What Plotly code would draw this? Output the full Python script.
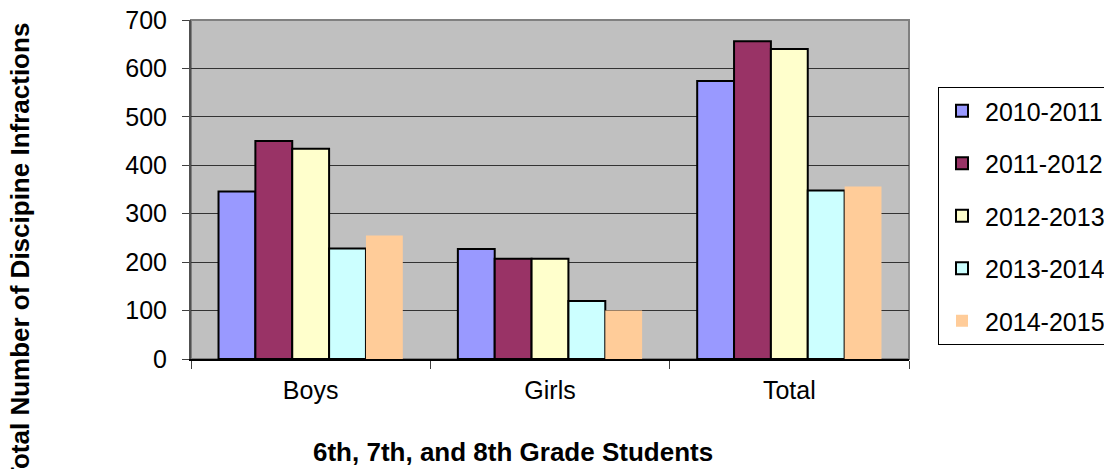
import plotly.graph_objects as go

categories = ["Boys", "Girls", "Total"]
series_names = ["2010-2011", "2011-2012", "2012-2013", "2013-2014", "2014-2015"]
v_2010_2011 = [346, 227, 574]
v_2011_2012 = [450, 207, 656]
v_2012_2013 = [434, 207, 640]
v_2013_2014 = [228, 120, 348]
v_2014_2015 = [255, 100, 356]
y_ticks = [0, 100, 200, 300, 400, 500, 600, 700]

values = [v_2010_2011, v_2011_2012, v_2012_2013, v_2013_2014, v_2014_2015]
colors = ["#9999FF", "#993366", "#FFFFCC", "#CCFFFF", "#FFCC99"]
line_widths = [2, 2, 2, 2, 0]

FONT = "Liberation Sans, Arial, sans-serif"

fig = go.Figure()
for name, vals, c, lw in zip(series_names, values, colors, line_widths):
    fig.add_trace(go.Bar(
        x=categories, y=vals, name=name, legendgroup=name,
        marker=dict(color=c, line=dict(color="black", width=lw)),
    ))

# page offset (body margin) compensation
OFF = 8
W, H = 1112 - OFF, 469 - OFF
# target plot area in window pixels
PL, PR, PT, PB = 191, 909, 20, 359
L, R, T, B = PL - OFF, 1112 - PR, PT - OFF, 469 - PB
pw, ph = W - L - R, H - T - B

def px_x(x):
    return (x - PL) / pw

def px_y(y):
    return (PB - y) / ph

fig.update_layout(
    width=W, height=H,
    margin=dict(l=L, r=R, t=T, b=B, pad=0, autoexpand=False),
    paper_bgcolor="white",
    plot_bgcolor="#C0C0C0",
    barmode="group", bargap=0.23, bargroupgap=0,
    font=dict(family=FONT, size=25, color="black"),
    showlegend=True,
    legend=dict(
        x=px_x(938), y=px_y(87), xanchor="left", yanchor="top",
        bgcolor="white", bordercolor="black", borderwidth=1,
        font=dict(family=FONT, size=25, color="black"),
        tracegroupgap=17, traceorder="grouped", itemwidth=36,
    ),
    xaxis=dict(
        showgrid=False, ticks="outside", tickson="boundaries", ticklen=8,
        tickcolor="#404040", showline=True, linecolor="black", linewidth=2,
        tickfont=dict(family=FONT, size=25, color="black"), automargin=False,
        ticklabelstandoff=8,
    ),
    yaxis=dict(
        range=[0, 700], tickvals=y_ticks, ticks="outside", ticklen=7,
        tickcolor="#404040", showline=True, linecolor="#505050", linewidth=2,
        showgrid=True, gridcolor="#333333", gridwidth=1, zeroline=False,
        tickfont=dict(family=FONT, size=25, color="black"),
        ticklabelstandoff=10, automargin=False, ticklabeloverflow="allow",
    ),
    shapes=[dict(type="rect", xref="paper", yref="paper", x0=0, x1=1, y0=0, y1=1,
                 line=dict(color="#808080", width=2), layer="below")],
    annotations=[
        dict(text="<b>Total Number of Discipine Infractions</b>", textangle=-90,
             xref="paper", yref="paper", x=px_x(20), y=px_y(253),
             xanchor="center", yanchor="middle", showarrow=False,
             font=dict(family=FONT, size=26, color="black")),
        dict(text="<b>6th, 7th, and 8th Grade Students</b>",
             xref="paper", yref="paper", x=px_x(513), y=px_y(452),
             xanchor="center", yanchor="middle", showarrow=False,
             font=dict(family=FONT, size=26, color="black")),
    ],
)

fig.write_html("out.html")
